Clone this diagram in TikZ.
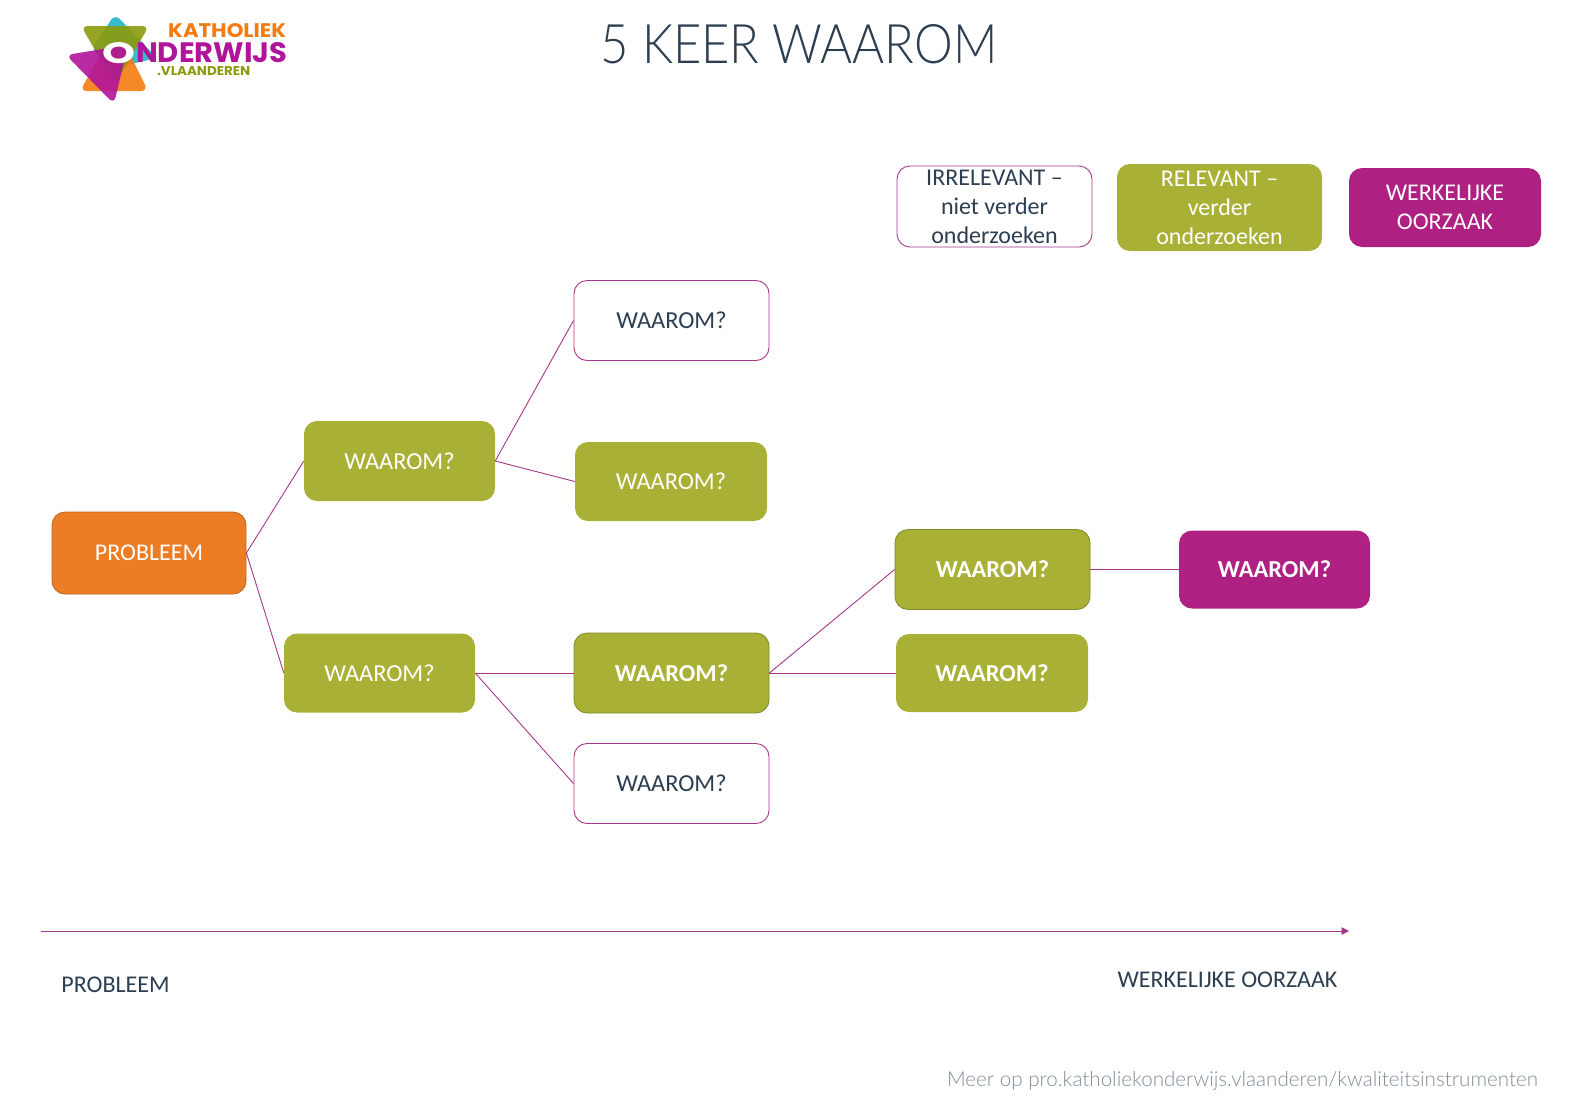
\documentclass[tikz,border=0pt]{standalone}
\usepackage{fontspec}
\usetikzlibrary{arrows.meta}
\setmainfont{Carlito}
\newfontfamily\titlefont{Lato Light}
\newfontfamily\logofont{Poppins}
\definecolor{ink}{HTML}{2C3E50}
\definecolor{plum}{HTML}{AE2081}
\definecolor{linkplum}{HTML}{A5388A}
\definecolor{moss}{HTML}{A8B036}
\definecolor{mossedge}{HTML}{7F8A2A}
\definecolor{amber}{HTML}{EC7D24}
\definecolor{amberedge}{HTML}{B8651F}
\definecolor{footgrey}{HTML}{7F8C99}
\definecolor{logoteal}{HTML}{1FB5C4}
\definecolor{logoolive}{HTML}{8C9A0C}
\definecolor{logoorange}{HTML}{F47B10}
\definecolor{logomagenta}{HTML}{B0149A}
\tikzset{
  x=1pt,y=-1pt,
  box/.style={rounded corners=13pt,inner sep=0pt,align=center,font=\fontsize{24}{29}\selectfont},
  treetext/.style={font=\fontsize{24.4}{29}\selectfont},
  treebold/.style={font=\fontsize{24.4}{29}\selectfont\bfseries},
  plainbox/.style={box,draw=linkplum,fill=white,text=ink,line width=0.9pt},
  greenbox/.style={box,fill=moss,text=white},
  strongbox/.style={greenbox,draw=mossedge,line width=0.8pt,treebold},
  causebox/.style={box,fill=plum,text=white},
  link/.style={draw=linkplum,line width=0.9pt},
  caption/.style={text=ink,font=\fontsize{24}{29}\selectfont,inner sep=0pt},
  logoshape/.style={rounded corners=7pt,fill opacity=0.9},
}
% places a box from its left, top, right and bottom edges
\newcommand{\boxat}[7][]{\node[#2,#1,minimum width=#6pt-#4pt,minimum height=#7pt-#5pt] (#3) at ({(#4+#6)/2},{(#5+#7)/2})}
\begin{document}
\begin{tikzpicture}
\useasboundingbox (0,0) rectangle (1587,1096);

% logo
\fill[logoteal,logoshape] (115,14) -- (157,58) -- (118,67) -- (91,50) -- cycle;
\fill[logoorange,logoshape] (80,91) -- (148,91) -- (125,44) -- (107,44) -- cycle;
\fill[logoolive,logoshape] (81,26) -- (149,26) -- (115,84) -- cycle;
\fill[logomagenta,logoshape] (66,55) -- (128,45) -- (114,104) -- cycle;
\node[inner sep=0pt,anchor=west,text=logoorange] (logoa) at (168,30.5)
  {\logofont\bfseries\resizebox{118pt}{14pt}{KATHOLIEK}};
\node[inner sep=0pt,anchor=west,text=logomagenta] (logob) at (136,53)
  {\logofont\bfseries\resizebox{151pt}{20pt}{NDERWIJS}};
\node[inner sep=0pt,anchor=west,text=white] (logoo) at (102,53)
  {\logofont\bfseries\resizebox{33pt}{21pt}{O}};
\node[inner sep=0pt,anchor=west,text=logoolive] (logoc) at (157,71.5)
  {\logofont\bfseries\resizebox{93pt}{9pt}{.VLAANDEREN}};

% heading
\node[text=ink,inner sep=0pt] (heading) at (799,44)
  {\titlefont\resizebox{397pt}{39pt}{5 KEER WAAROM}};

% legend
\boxat{plainbox}{legA}{897}{166}{1092}{247} {IRRELEVANT --\\niet verder\\onderzoeken};
\boxat{greenbox}{legB}{1117}{164}{1322}{251} {RELEVANT --\\verder\\onderzoeken};
\boxat{causebox}{legC}{1349}{168}{1541}{247} {WERKELIJKE\\OORZAAK};

% cause tree
\boxat[draw=amberedge,line width=0.8pt,fill=amber,text=white]{box}{prob}{52}{512}{246}{594} {PROBLEEM};
\boxat[treetext]{greenbox}{upper}{304}{421}{495}{501} {WAAROM?};
\boxat[treetext]{greenbox}{lower}{284}{633.5}{475}{712.5} {WAAROM?};
\boxat[treetext]{plainbox}{topw}{574}{280.5}{769}{360.5} {WAAROM?};
\boxat[treetext]{greenbox}{midg}{575}{442}{767}{521} {WAAROM?};
\boxat{strongbox}{centre}{574}{633}{769}{713} {WAAROM?};
\boxat[treetext]{plainbox}{botw}{574}{743.5}{769}{823.5} {WAAROM?};
\boxat{strongbox}{rightup}{895}{529.5}{1090}{609.5} {WAAROM?};
\boxat[draw=none]{strongbox}{rightlow}{896}{634}{1088}{712} {WAAROM?};
\boxat[treebold]{causebox}{cause}{1179}{530.5}{1370}{608.5} {WAAROM?};

\draw[link] (prob.east) -- (upper.west);
\draw[link] (prob.east) -- (lower.west);
\draw[link] (upper.east) -- (topw.west);
\draw[link] (upper.east) -- (midg.west);
\draw[link] (lower.east) -- (centre.west);
\draw[link] (lower.east) -- (botw.west);
\draw[link] (centre.east) -- (rightup.west);
\draw[link] (centre.east) -- (rightlow.west);
\draw[link] (rightup.east) -- (cause.west);

% axis from problem to root cause
\coordinate (axisA) at (40.5,931);
\coordinate (axisB) at (1349,931);
\draw[link,-{Triangle[length=7.5pt,width=7.5pt]}] (axisA) -- (axisB);
\node[caption] (capA) at (115.5,985) {PROBLEEM};
\node[caption] (capB) at (1227.5,980) {WERKELIJKE OORZAAK};

% source line
\node[text=footgrey,inner sep=0pt,anchor=east] (foot) at (1538,1081)
  {\titlefont\fontsize{20.6}{24}\selectfont Meer op pro.katholiekonderwijs.vlaanderen/kwaliteitsinstrumenten};
\end{tikzpicture}
\end{document}
